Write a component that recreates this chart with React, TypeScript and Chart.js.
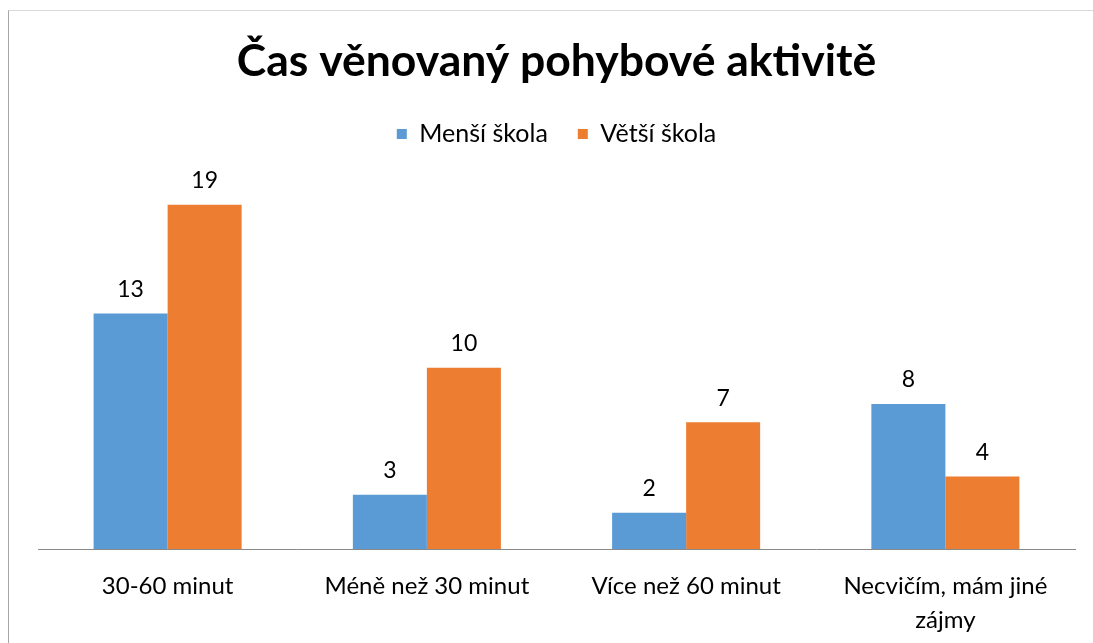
import React, { useEffect, useRef } from "react";
import { Chart, registerables } from "chart.js";

Chart.register(...registerables);

const categories: (string | string[])[] = [
  "30-60 minut",
  "Méně než 30 minut",
  "Více než 60 minut",
  ["Necvičím, mám jiné", "zájmy"],
];
const mensiSkola = [13, 3, 2, 8];
const vetsiSkola = [19, 10, 7, 4];
const seriesNames = ["Menší škola", "Větší škola"];
const titleText = "Čas věnovaný pohybové aktivitě";

const FONT = "Lato, 'Noto Sans', sans-serif";

const dataLabelPlugin = {
  id: "dataLabels",
  afterDatasetsDraw(chart: any) {
    const ctx = chart.ctx;
    ctx.save();
    ctx.font = `23px ${FONT}`;
    ctx.fillStyle = "#000";
    ctx.textAlign = "center";
    ctx.textBaseline = "middle";
    chart.data.datasets.forEach((ds: any, i: number) => {
      const meta = chart.getDatasetMeta(i);
      meta.data.forEach((el: any, j: number) => {
        ctx.fillText(String(ds.data[j]), el.x, el.y - 24);
      });
    });
    ctx.restore();
  },
};

export default function App() {
  const ref = useRef<HTMLCanvasElement>(null);
  useEffect(() => {
    if (!ref.current) return;
    const chart = new Chart(ref.current, {
      type: "bar",
      data: {
        labels: categories,
        datasets: [
          { label: seriesNames[0], data: mensiSkola, backgroundColor: "#5B9BD5" },
          { label: seriesNames[1], data: vetsiSkola, backgroundColor: "#ED7D31" },
        ],
      },
      options: {
        animation: false,
        responsive: false,
        maintainAspectRatio: false,
        layout: { padding: { left: 38, right: 18, top: 0, bottom: 6 } },
        datasets: { bar: { barPercentage: 1, categoryPercentage: 0.571 } },
        plugins: {
          title: {
            display: true,
            text: titleText,
            color: "#000",
            font: { family: FONT, size: 44.5, weight: "bold", lineHeight: 1.2 },
            padding: { top: 35, bottom: 3 },
          },
          legend: {
            display: true,
            labels: {
              boxWidth: 10,
              boxHeight: 10,
              padding: 30,
              color: "#000",
              font: { family: FONT, size: 25 },
            },
          },
          tooltip: { enabled: false },
        },
        scales: {
          x: {
            grid: { display: false, drawTicks: false },
            border: { display: true, color: "#898989", width: 1 },
            ticks: {
              color: "#000",
              padding: 20,
              maxRotation: 0,
              font: { family: FONT, size: 24, lineHeight: 34 / 24 },
            },
          },
          y: {
            display: false,
            min: 0,
            max: 21.67,
          },
        },
      },
      plugins: [dataLabelPlugin],
    });
    return () => chart.destroy();
  }, []);
  return (
    <div style={{ position: "fixed", left: 0, top: 0, width: 1093, height: 643, background: "#fff", overflow: "hidden" }}>
      <div
        style={{
          position: "absolute",
          left: 8,
          top: 10,
          width: 1200,
          height: 800,
          borderLeft: "1px solid #a6a6a6",
          borderTop: "1px solid #d9d9d9",
        }}
      />
      <canvas ref={ref} width={1093} height={663} style={{ position: "absolute", left: 0, top: 0 }} />
    </div>
  );
}
